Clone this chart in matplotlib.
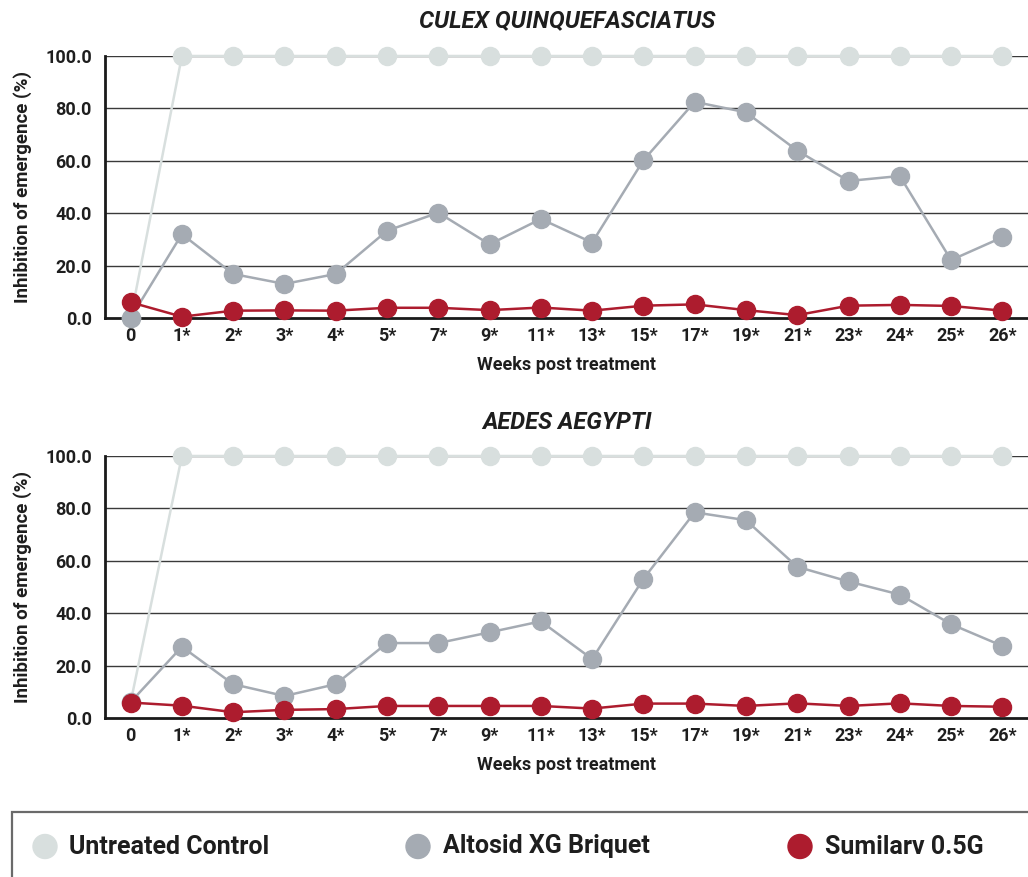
import numpy as np
import matplotlib
matplotlib.use("Agg")
import matplotlib.pyplot as plt
from matplotlib.patches import Ellipse, Rectangle

plt.rcParams['font.family'] = ['Roboto', 'DejaVu Sans']

weeks = ['0', '1*', '2*', '3*', '4*', '5*', '7*', '9*', '11*', '13*', '15*', '17*', '19*', '21*', '23*', '24*', '25*', '26*']

# Culex quinquefasciatus
culex_control = [0, 100, 100, 100, 100, 100, 100, 100, 100, 100, 100, 100, 100, 100, 100, 100, 100, 100]
culex_altosid = [0, 32, 16.8, 13, 16.8, 33.3, 40.2, 28.1, 37.8, 28.8, 60.2, 82.5, 78.5, 63.9, 52.3, 54.2, 22.1, 30.8]
culex_sumilarv = [6.0, 0.5, 2.8, 2.9, 2.8, 3.9, 3.9, 3.0, 4.0, 2.8, 4.7, 5.2, 3.0, 1.1, 4.7, 5.0, 4.6, 2.8]

# Aedes aegypti
aedes_control = [6, 100, 100, 100, 100, 100, 100, 100, 100, 100, 100, 100, 100, 100, 100, 100, 100, 100]
aedes_altosid = [6.1, 27.2, 12.9, 8.4, 12.9, 28.6, 28.6, 32.7, 36.9, 22.5, 53.1, 78.5, 75.5, 57.7, 52.1, 47.1, 35.8, 27.5]
aedes_sumilarv = [5.9, 4.7, 2.2, 3.1, 3.4, 4.6, 4.6, 4.6, 4.6, 3.6, 5.5, 5.5, 4.6, 5.6, 4.6, 5.6, 4.6, 4.3]

series_names = ['Untreated Control', 'Altosid XG Briquet', 'Sumilarv 0.5G']
colors = ['#d8dfde', '#a5abb3', '#ad1c2e']
txt = '#1e1e1e'

W, H = 1028, 877
fig = plt.figure(figsize=(W / 100, H / 100), dpi=100)

panels = [
    ('CULEX QUINQUEFASCIATUS', [culex_control, culex_altosid, culex_sumilarv], 318, 21),
    ('AEDES AEGYPTI', [aedes_control, aedes_altosid, aedes_sumilarv], 718, 422),
]

x = np.arange(len(weeks))
for title, data, ybot, ytitle in panels:
    ax = fig.add_axes([105 / W, 1 - ybot / H, 923 / W, 262 / H])
    for yv in [20, 40, 60, 80, 100]:
        ax.axhline(yv, color='#3a3a3a', lw=1.0, zorder=1)
    for vals, c in zip(data, colors):
        ax.plot(x, vals, color=c, lw=1.8, marker='o', ms=13, mec=c, mfc=c, zorder=3, clip_on=False)
    ax.set_xlim(-0.5, len(weeks) - 0.5)
    ax.set_ylim(0, 100)
    ax.set_yticks([0, 20, 40, 60, 80, 100])
    ax.set_yticklabels(['%.1f' % v for v in [0, 20, 40, 60, 80, 100]], fontsize=13, fontweight='bold', color=txt)
    ax.set_xticks(x)
    ax.set_xticklabels(weeks, fontsize=13, fontweight='bold', color=txt)
    ax.tick_params(axis='x', length=0, pad=6.5)
    ax.tick_params(axis='y', length=0, pad=9.5)
    for s in ['top', 'right']:
        ax.spines[s].set_visible(False)
    for s in ['left', 'bottom']:
        ax.spines[s].set_color('#1a1a1a')
        ax.spines[s].set_linewidth(2)
        ax.spines[s].set_zorder(2)
    ax.set_xlabel('Weeks post treatment', fontsize=13, fontweight='bold', color=txt)
    ax.xaxis.set_label_coords(0.5, (318 - 356) / 262)
    ax.set_ylabel('Inhibition of emergence (%)', fontsize=13.5, fontweight='bold', color=txt)
    ax.yaxis.set_label_coords((32 - 105) / 923, 0.5)
    ax.set_facecolor('none')
    fig.text(567 / W, 1 - ytitle / H, title, fontsize=17, fontweight='bold', style='italic',
             color=txt, ha='center', va='center')

# legend box
fig.patches.append(Rectangle((12 / W, -0.05), 1.2, 1 - 812 / H + 0.05, transform=fig.transFigure,
                             fill=False, edgecolor='#6a6a6a', lw=1.6))
leg_marker_x = [45, 418, 800]
leg_text_x = [69, 443, 825]
for name, c, mx, tx in zip(series_names, colors, leg_marker_x, leg_text_x):
    fig.patches.append(Ellipse((mx / W, 1 - 846.5 / H), 24 / W, 24 / H,
                               transform=fig.transFigure, color=c))
    fig.text(tx / W, 1 - 846.5 / H, name, fontsize=18, fontweight='bold', color=txt,
             va='center', ha='left')

fig.savefig('out.png', dpi=100)
